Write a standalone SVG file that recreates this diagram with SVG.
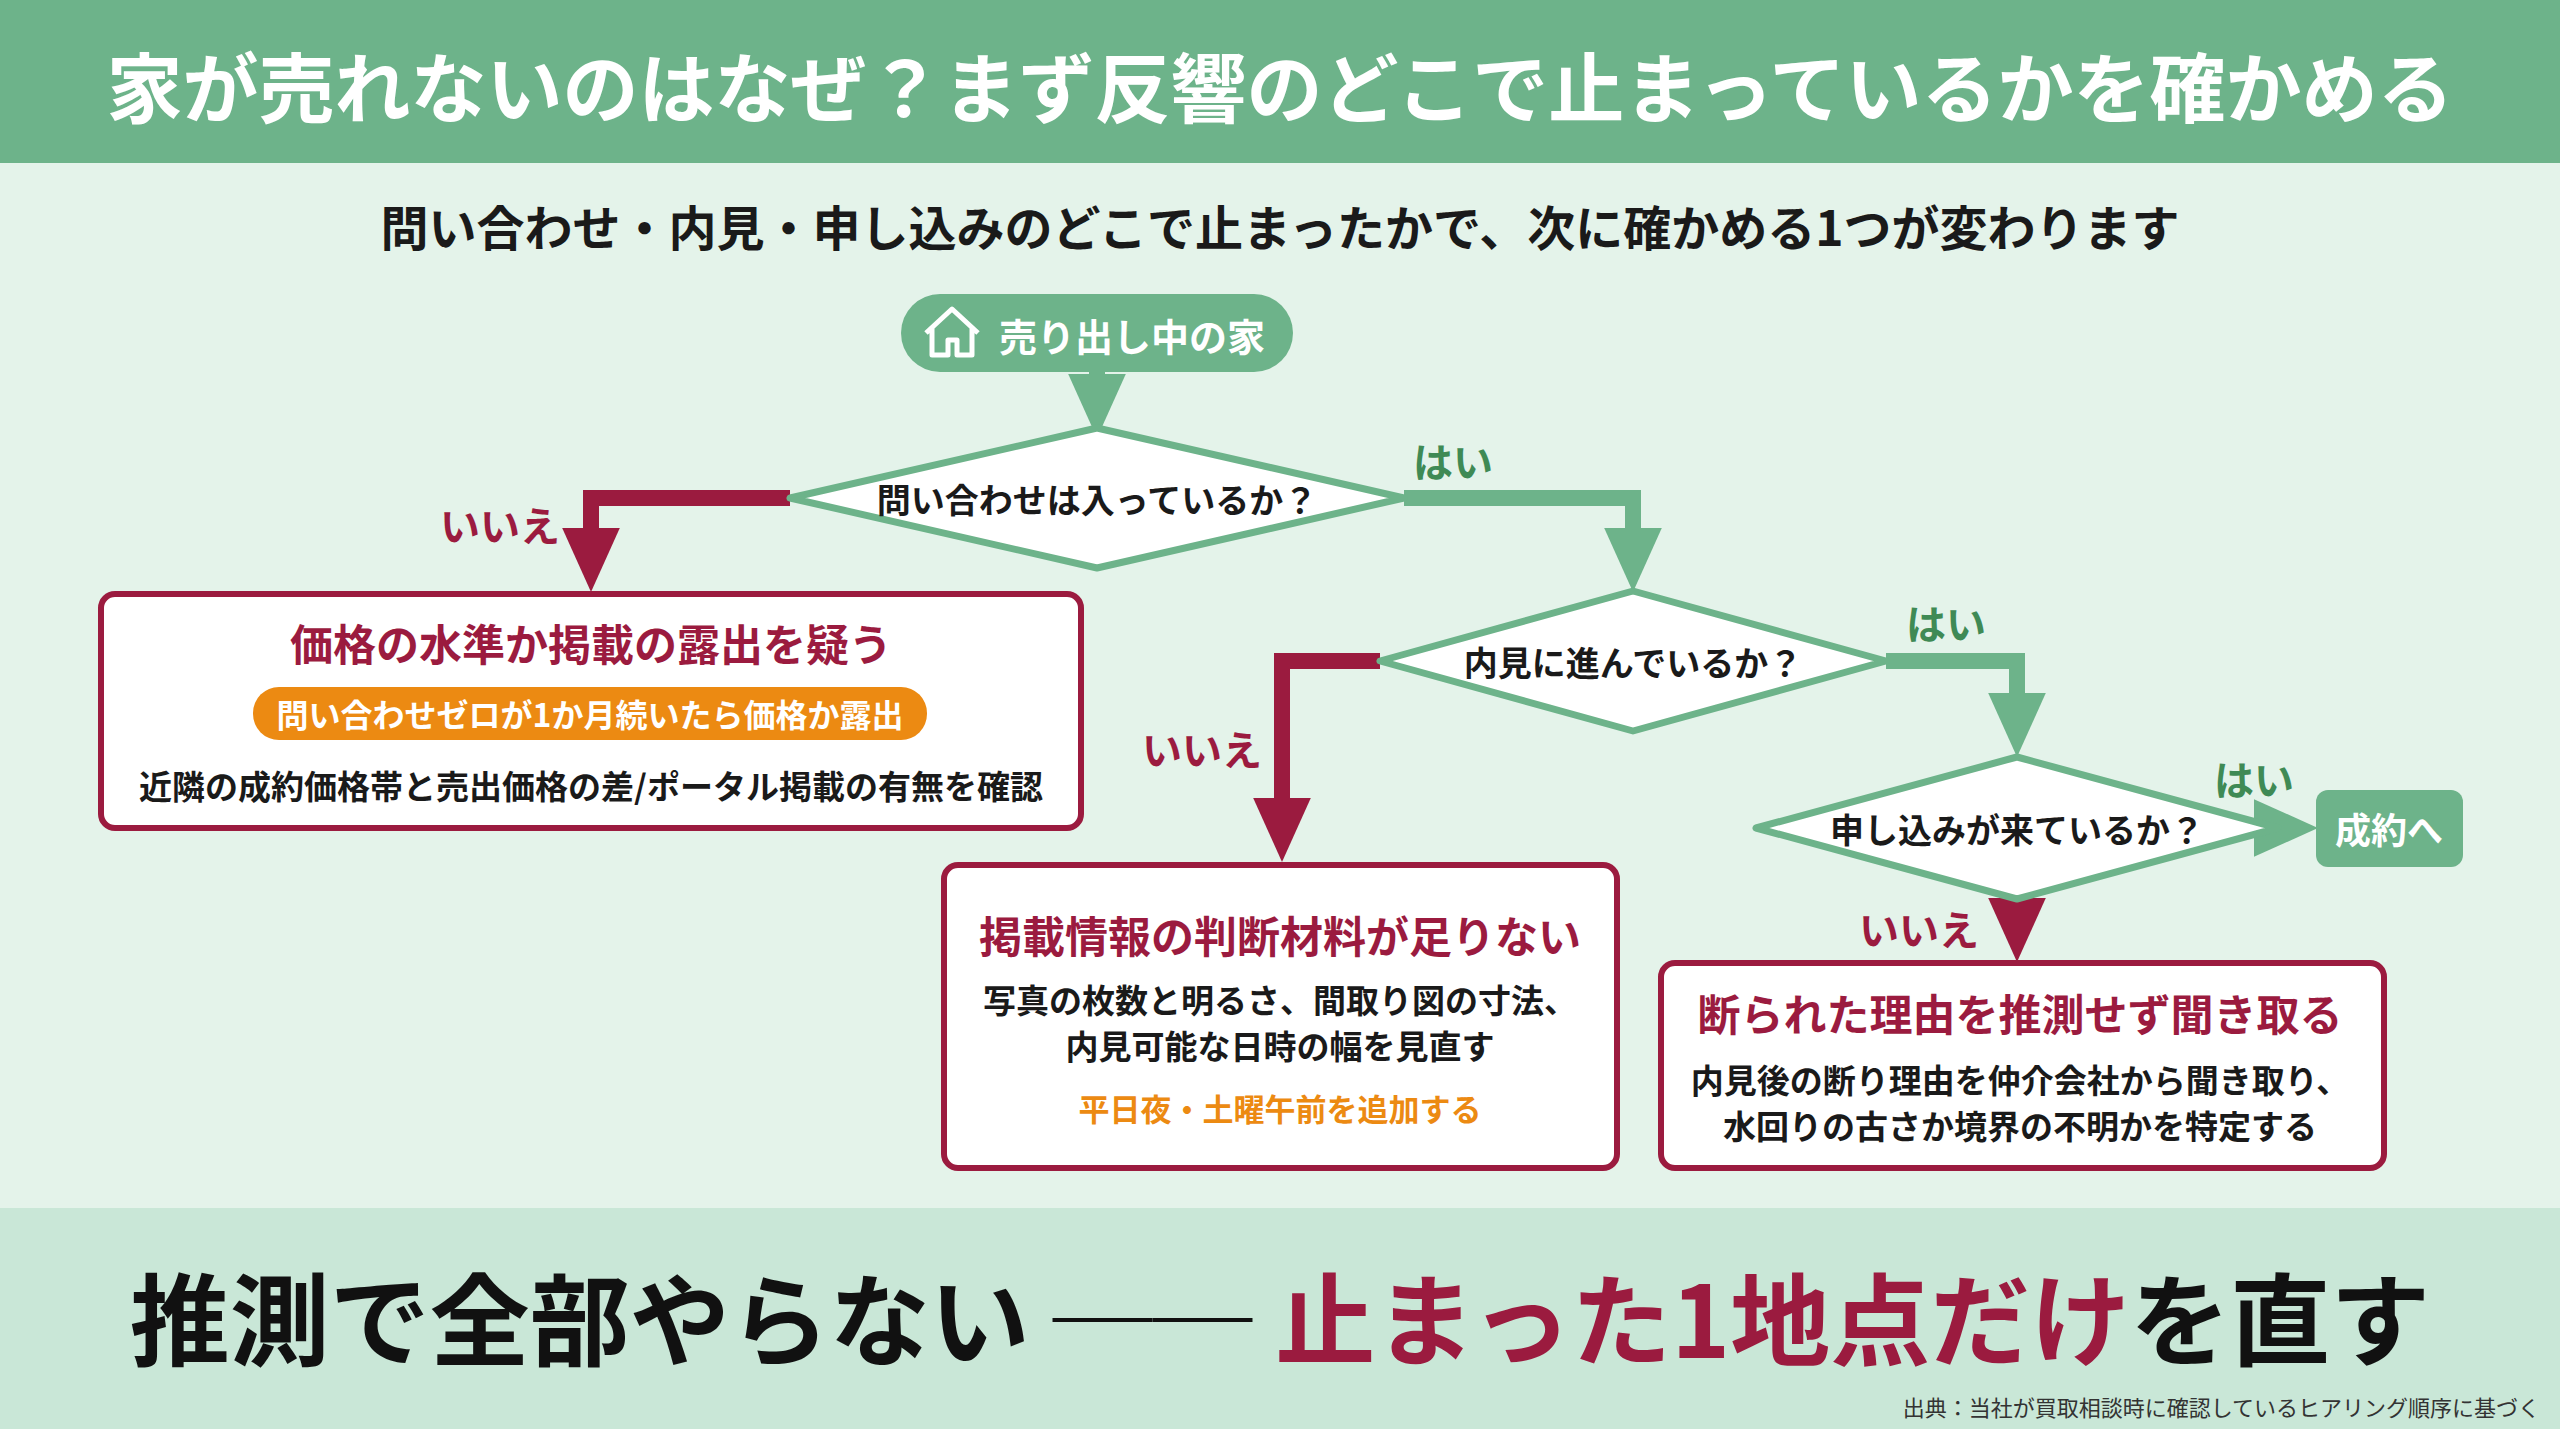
<svg xmlns="http://www.w3.org/2000/svg" width="2560" height="1429" viewBox="0 0 2560 1429">
<defs>
<style>
text{font-family:"Noto Sans CJK JP","Noto Sans",sans-serif;font-weight:700;text-anchor:middle;dominant-baseline:central}
.dia{fill:#fff;stroke:#6db38a;stroke-width:7;stroke-linejoin:round}
.box{fill:#fff;stroke:#9b1b3f;stroke-width:6}
.no{fill:none;stroke:#9b1b3f;stroke-width:16}
.yes{fill:none;stroke:#6db38a;stroke-width:16}
.lno{fill:#9b1b3f;font-size:40px}
.lyes{fill:#3f8a55;font-size:40px}
.ttl{fill:#9b1b3f;font-size:43px}
.body{fill:#1a1a1a;font-size:33px}
</style>
<marker id="ano" markerWidth="4" markerHeight="4" refX="2" refY="2" orient="auto" markerUnits="strokeWidth" viewBox="0 0 4 4"><path d="M0,0.2 L4,2 L0,3.8z" fill="#9b1b3f"/></marker>
<marker id="ayes" markerWidth="4" markerHeight="4" refX="2" refY="2" orient="auto" markerUnits="strokeWidth" viewBox="0 0 4 4"><path d="M0,0.2 L4,2 L0,3.8z" fill="#6db38a"/></marker>
</defs>
<rect width="2560" height="1429" fill="#e4f3ea"/>
<rect width="2560" height="163" fill="#6db38a"/>
<text x="1280" y="84" fill="#fff" font-size="76">家が売れないのはなぜ？まず反響のどこで止まっているかを確かめる</text>
<text x="1280" y="225" fill="#1a1a1a" font-size="48">問い合わせ・内見・申し込みのどこで止まったかで、次に確かめる1つが変わります</text>

<g id="connectors">
<path class="yes" d="M1097,372 V406" marker-end="url(#ayes)"/>
<path class="no" d="M790,498 H591 V560" marker-end="url(#ano)"/>
<path class="yes" d="M1404,498 H1633 V560" marker-end="url(#ayes)"/>
<path class="no" d="M1380,661 H1282 V830" marker-end="url(#ano)"/>
<path class="yes" d="M1886,661 H2017 V725" marker-end="url(#ayes)"/>
<path class="yes" d="M2278,828 H2286" marker-end="url(#ayes)"/>
<path class="no" d="M2017,898 V930" marker-end="url(#ano)"/>
<text class="lno" x="500" y="524">いいえ</text>
<text class="lyes" x="1453" y="460">はい</text>
<text class="lno" x="1202" y="748">いいえ</text>
<text class="lyes" x="1946" y="622">はい</text>
<text class="lyes" x="2254" y="778">はい</text>
<text class="lno" x="1919" y="928">いいえ</text>
</g>

<g id="start">
<rect x="901" y="294" width="392" height="78" rx="39" fill="#6db38a"/>
<path d="M926,333 L952,309 L978,333 M932,328 V355 H948 V340 H957 V355 H972 V328" fill="none" stroke="#fff" stroke-width="5" stroke-linejoin="round"/>
<text x="1132" y="334" fill="#fff" font-size="38">売り出し中の家</text>
</g>
<g id="q1">
<polygon class="dia" points="1097,428 1404,498 1097,568 790,498"/>
<text x="1097" y="498" fill="#1a1a1a" font-size="34">問い合わせは入っているか？</text>
</g>
<g id="q2">
<polygon class="dia" points="1633,591 1886,661 1633,731 1380,661"/>
<text x="1633" y="661" fill="#1a1a1a" font-size="34">内見に進んでいるか？</text>
</g>
<g id="q3">
<polygon class="dia" points="2017,757 2278,828 2017,899 1756,828"/>
<text x="2017" y="828" fill="#1a1a1a" font-size="34">申し込みが来ているか？</text>
</g>
<g id="deal">
<rect x="2316" y="790" width="147" height="77" rx="12" fill="#6db38a"/>
<text x="2389" y="828" fill="#fff" font-size="36">成約へ</text>
</g>
<g id="box1">
<rect class="box" x="101" y="594" width="980" height="234" rx="14"/>
<text class="ttl" x="591" y="642">価格の水準か掲載の露出を疑う</text>
<rect x="253" y="687" width="674" height="53" rx="26" fill="#ec8a12"/>
<text x="590" y="713" fill="#fff" font-size="32">問い合わせゼロが1か月続いたら価格か露出</text>
<text class="body" x="591" y="785">近隣の成約価格帯と売出価格の差/ポータル掲載の有無を確認</text>
</g>
<g id="box2">
<rect class="box" x="944" y="865" width="673" height="303" rx="14"/>
<text class="ttl" x="1280" y="934">掲載情報の判断材料が足りない</text>
<text class="body" x="1280" y="999">写真の枚数と明るさ、間取り図の寸法、</text>
<text class="body" x="1280" y="1045">内見可能な日時の幅を見直す</text>
<text x="1280" y="1107" fill="#ec8a12" font-size="31">平日夜・土曜午前を追加する</text>
</g>
<g id="box3">
<rect class="box" x="1661" y="963" width="723" height="205" rx="14"/>
<text class="ttl" x="2020" y="1012">断られた理由を推測せず聞き取る</text>
<text class="body" x="2020" y="1079">内見後の断り理由を仲介会社から聞き取り、</text>
<text class="body" x="2020" y="1125">水回りの古さか境界の不明かを特定する</text>
</g>
<rect y="1208" width="2560" height="221" fill="#c9e7d7"/>
<text x="1280" y="1314" font-size="100" fill="#111">推測で全部やらない <tspan fill="#111">──</tspan> <tspan fill="#9b1b3f">止まった1地点だけ</tspan>を直す</text>
<text x="2540" y="1406" font-size="22" fill="#333" style="text-anchor:end;font-weight:400">出典：当社が買取相談時に確認しているヒアリング順序に基づく</text>
</svg>
